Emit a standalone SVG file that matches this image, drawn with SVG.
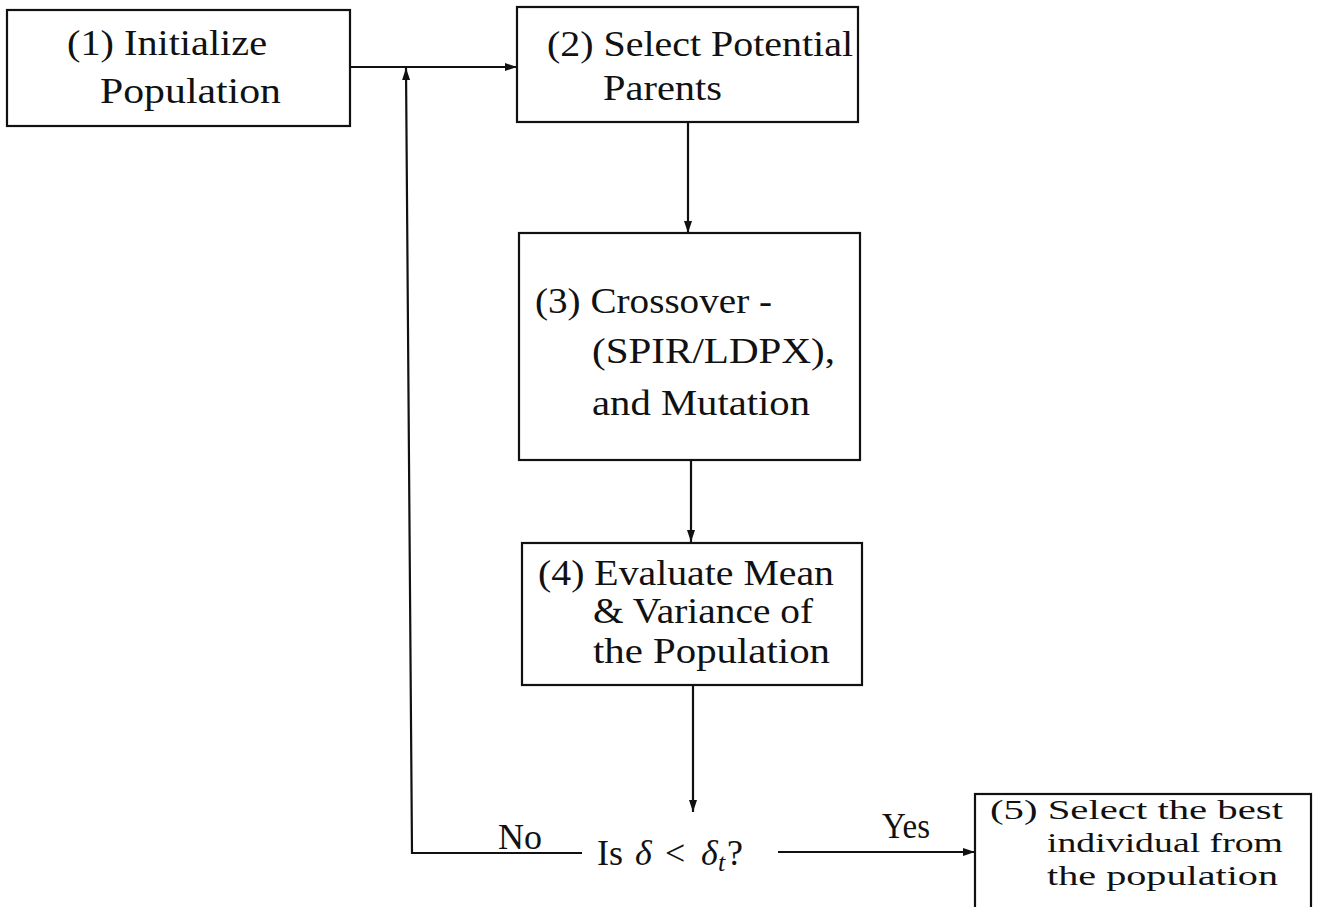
<svg xmlns="http://www.w3.org/2000/svg" width="1324" height="907" viewBox="0 0 1324 907">
<style>
.box{fill:#fff;stroke:#111;stroke-width:2.2}
.t{font-family:'Liberation Serif','DejaVu Serif',serif;font-size:36px;fill:#111}
.s{font-size:28px}
.it{font-style:italic}
.c{fill:none;stroke:#111;stroke-width:2.2}
</style>
<defs>
<marker id="ah" markerWidth="12" markerHeight="8" refX="12" refY="4" orient="auto" markerUnits="userSpaceOnUse">
<path d="M0,0 L12,4 L0,8 Z" fill="#111"/>
</marker>
</defs>
<rect width="1324" height="907" fill="#fff"/>
<g id="connectors">
<line class="c" x1="350" y1="67" x2="517" y2="67" marker-end="url(#ah)"/>
<polyline class="c" points="582,853 412,853 406,68" marker-end="url(#ah)"/>
<line class="c" x1="688" y1="122" x2="688" y2="233" marker-end="url(#ah)"/>
<line class="c" x1="691" y1="460" x2="691" y2="542" marker-end="url(#ah)"/>
<line class="c" x1="693" y1="685" x2="693" y2="812" marker-end="url(#ah)"/>
<line class="c" x1="778" y1="852" x2="975" y2="852" marker-end="url(#ah)"/>
<text class="t" x="498" y="849" textLength="44" lengthAdjust="spacingAndGlyphs">No</text>
<text class="t" x="882" y="838" textLength="48" lengthAdjust="spacingAndGlyphs">Yes</text>
</g>
<g id="node1">
<rect class="box" x="7" y="10" width="343" height="116"/>
<text class="t" x="67" y="55" textLength="200" lengthAdjust="spacingAndGlyphs">(1) Initialize</text>
<text class="t" x="100" y="103" textLength="181" lengthAdjust="spacingAndGlyphs">Population</text>
</g>
<g id="node2">
<rect class="box" x="517" y="7" width="341" height="115"/>
<text class="t" x="547" y="56" textLength="306" lengthAdjust="spacingAndGlyphs">(2) Select Potential</text>
<text class="t" x="603" y="100" textLength="119" lengthAdjust="spacingAndGlyphs">Parents</text>
</g>
<g id="node3">
<rect class="box" x="519" y="233" width="341" height="227"/>
<text class="t" x="535" y="313" textLength="237" lengthAdjust="spacingAndGlyphs">(3) Crossover -</text>
<text class="t" x="592" y="363" textLength="243" lengthAdjust="spacingAndGlyphs">(SPIR/LDPX),</text>
<text class="t" x="592" y="415" textLength="218" lengthAdjust="spacingAndGlyphs">and Mutation</text>
</g>
<g id="node4">
<rect class="box" x="522" y="543" width="340" height="142"/>
<text class="t" x="538" y="585" textLength="296" lengthAdjust="spacingAndGlyphs">(4) Evaluate Mean</text>
<text class="t" x="593" y="623" textLength="220" lengthAdjust="spacingAndGlyphs">&amp; Variance of</text>
<text class="t" x="593" y="663" textLength="237" lengthAdjust="spacingAndGlyphs">the Population</text>
</g>
<g id="decision">
<text class="t" y="865"><tspan x="597">Is</tspan><tspan x="635" class="it">δ</tspan><tspan x="665">&lt;</tspan><tspan x="701" class="it">δ</tspan><tspan x="718" y="871" class="it" font-size="26">t</tspan><tspan x="727" y="865">?</tspan></text>
</g>
<g id="node5">
<rect class="box" x="975" y="794" width="336" height="125"/>
<text class="t s" x="990" y="819" textLength="293" lengthAdjust="spacingAndGlyphs">(5) Select the best</text>
<text class="t s" x="1047" y="852" textLength="236" lengthAdjust="spacingAndGlyphs">individual from</text>
<text class="t s" x="1047" y="885" textLength="231" lengthAdjust="spacingAndGlyphs">the population</text>
</g>
</svg>
